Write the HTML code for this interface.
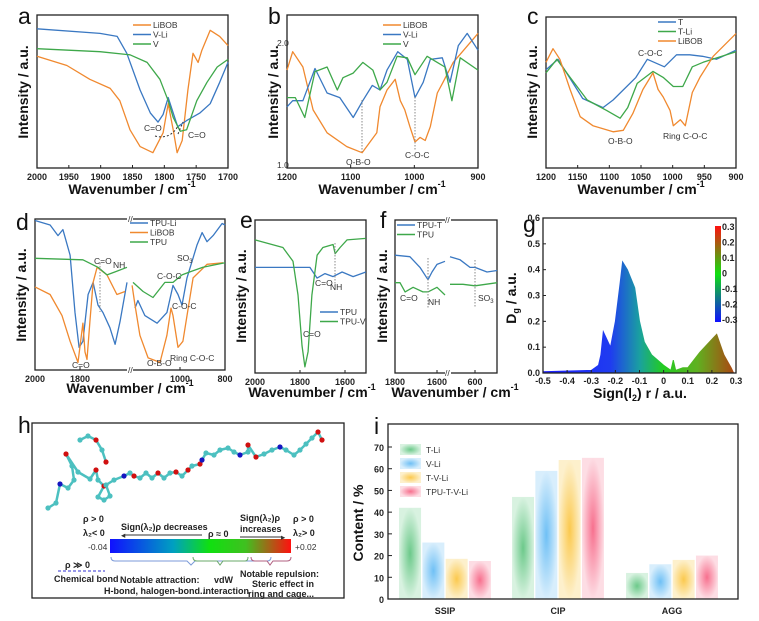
<!DOCTYPE html>
<html><head><meta charset="utf-8"><style>
body{margin:0;background:#fff}
svg{display:block;font-family:"Liberation Sans",sans-serif}
.tk{font-size:9px;font-weight:bold;fill:#222}
.ax{font-size:14px;font-weight:bold;fill:#111}
.lt{font-size:23px;fill:#111}
.lg{font-size:8.5px;fill:#333}
.an{font-size:8.5px;fill:#333}
.ht{font-size:9px;font-weight:bold;fill:#222}
</style></head><body>
<svg id="fig" width="759" height="621" viewBox="0 0 759 621">
<defs>
<linearGradient id="ntc" x1="0" x2="1" y1="0" y2="0"><stop offset="0" stop-color="#1010ff"/><stop offset="0.35" stop-color="#00a0c0"/><stop offset="0.55" stop-color="#10e010"/><stop offset="0.75" stop-color="#40c020"/><stop offset="1" stop-color="#ff1010"/></linearGradient>
<linearGradient id="gfill" gradientUnits="userSpaceOnUse" x1="543" x2="736" y1="0" y2="0"><stop offset="0" stop-color="#1c1cff"/><stop offset="0.35" stop-color="#1f3cf0"/><stop offset="0.5" stop-color="#1aa0a0"/><stop offset="0.62" stop-color="#22cc22"/><stop offset="0.8" stop-color="#60b020"/><stop offset="1" stop-color="#b04010"/></linearGradient>
<linearGradient id="cbar" x1="0" x2="0" y1="1" y2="0"><stop offset="0" stop-color="#1010ff"/><stop offset="0.5" stop-color="#10e010"/><stop offset="1" stop-color="#ff1010"/></linearGradient>
<radialGradient id="bg0"><stop offset="0" stop-color="#6cc98a"/><stop offset="1" stop-color="#d8f2e0"/></radialGradient>
<radialGradient id="bg1"><stop offset="0" stop-color="#6fc0f5"/><stop offset="1" stop-color="#d8eefc"/></radialGradient>
<radialGradient id="bg2"><stop offset="0" stop-color="#fbc94e"/><stop offset="1" stop-color="#fdf0cc"/></radialGradient>
<radialGradient id="bg3"><stop offset="0" stop-color="#f7708e"/><stop offset="1" stop-color="#fddde4"/></radialGradient>
</defs>
<g id="root"></g>
</svg>
<script>
// ---- panel a data [wavenumber, intensity]
const aLiBOB=[[2000,.73],[1953,.67],[1917,.58],[1885,.52],[1870,.44],[1854,.25],[1838,.14],[1818,.10],[1802,.23],[1794,.42],[1786,.25],[1780,.10],[1772,.18],[1763,.51],[1755,.75],[1747,.69],[1741,.77],[1728,.90],[1713,.86],[1700,.80]];
const aVLi=[[2000,.91],[1901,.88],[1874,.86],[1859,.75],[1838,.51],[1822,.36],[1810,.30],[1802,.35],[1794,.46],[1786,.36],[1779,.27],[1765,.31],[1744,.36],[1728,.42],[1713,.56],[1700,.69]];
const aV=[[2000,.78],[1901,.76],[1854,.74],[1827,.69],[1807,.58],[1794,.44],[1786,.33],[1775,.24],[1765,.25],[1749,.44],[1733,.56],[1717,.66],[1700,.71]];
// ---- panel b
const bLiBOB=[[1200,.64],[1191,.76],[1175,.66],[1159,.38],[1137,.23],[1106,.14],[1082,.10],[1059,.23],[1054,.40],[1043,.51],[1030,.58],[1022,.44],[1015,.38],[1007,.27],[999,.17],[991,.20],[983,.18],[975,.27],[964,.49],[955,.56],[939,.69],[900,.88]];
const bVLi=[[1200,.40],[1191,.44],[1175,.44],[1156,.65],[1137,.49],[1117,.46],[1096,.33],[1081,.44],[1066,.54],[1054,.51],[1043,.64],[1026,.76],[1011,.71],[999,.46],[986,.56],[975,.71],[956,.72],[944,.56],[931,.80],[917,.88],[900,.77]];
const bV=[[1200,.46],[1187,.46],[1172,.33],[1156,.63],[1137,.66],[1121,.51],[1112,.59],[1096,.62],[1081,.69],[1065,.64],[1054,.51],[1043,.56],[1027,.73],[1011,.72],[999,.61],[980,.73],[964,.69],[952,.66],[941,.44],[928,.72],[900,.64]];
// ---- panel c
const cLiBOB=[[1200,.70],[1189,.79],[1178,.72],[1162,.52],[1146,.34],[1126,.28],[1094,.24],[1078,.25],[1063,.36],[1047,.52],[1031,.63],[1023,.52],[1015,.47],[1004,.38],[999,.28],[988,.32],[980,.28],[969,.50],[957,.60],[936,.74],[900,.89]];
const cT=[[1200,.65],[1181,.72],[1157,.56],[1142,.46],[1110,.40],[1094,.45],[1058,.60],[1040,.72],[1013,.67],[994,.75],[973,.75],[953,.74],[931,.72],[900,.78]];
const cTLi=[[1200,.63],[1183,.72],[1162,.60],[1135,.45],[1104,.38],[1083,.33],[1071,.40],[1056,.56],[1031,.64],[1015,.60],[999,.54],[984,.54],[969,.67],[952,.70],[900,.77]];
// ---- panel d (broken axis: 2000-1578 | 1222-800)
const dTPULiL=[[2000,.99],[1933,.96],[1898,.89],[1876,.93],[1844,.76],[1822,.38],[1804,.15],[1787,.19],[1764,.50],[1742,.58],[1720,.43],[1698,.38],[1667,.28],[1644,.17],[1622,.32],[1591,.58]];
const dTPULiR=[[1200,.41],[1187,.46],[1156,.36],[1102,.31],[1058,.38],[1031,.56],[1009,.50],[991,.43],[969,.61],[924,.83],[902,.91],[880,.85],[853,.89],[813,.97],[800,.96]];
const dLiBOBL=[[2000,.55],[1933,.50],[1880,.36],[1844,.19],[1809,.05],[1787,.31],[1778,.12],[1769,.07],[1756,.32],[1742,.58],[1724,.68],[1680,.63],[1636,.50],[1600,.52]];
const dLiBOBR=[[1213,.56],[1200,.43],[1178,.23],[1142,.08],[1089,.05],[1058,.23],[1040,.41],[1031,.36],[1009,.15],[987,.19],[969,.36],[942,.61],[880,.70],[809,.71]];
const dTPUL=[[2000,.74],[1787,.73],[1720,.68],[1680,.63],[1644,.65],[1591,.68]];
const dTPUR=[[1209,.58],[1164,.52],[1120,.48],[1067,.58],[1031,.58],[991,.63],[956,.65],[898,.68],[800,.71]];
// ---- panel e
const eTPUV=[[2000,.87],[1876,.82],[1831,.73],[1809,.51],[1791,.18],[1778,.04],[1764,.14],[1747,.51],[1724,.77],[1698,.82],[1653,.84],[1644,.78],[1622,.82],[1591,.87],[1507,.88]];
const eTPU=[[2000,.69],[1756,.69],[1724,.62],[1689,.65],[1653,.63],[1613,.66],[1564,.63],[1507,.66]];
// ---- panel f (broken: 1800-1548 | 728-495)
const fTPUTL=[[1800,.77],[1729,.76],[1681,.69],[1643,.61],[1624,.66],[1600,.71],[1562,.73]];
const fTPUTR=[[719,.76],[671,.74],[624,.69],[600,.69],[543,.66],[495,.67]];
const fTPUL=[[1800,.59],[1776,.59],[1752,.53],[1714,.56],[1667,.53],[1643,.53],[1600,.56],[1562,.51]];
const fTPUR=[[719,.58],[657,.58],[600,.57],[495,.59]];
// ---- panel g envelope [sign(l2)r, Dg]
const gEnvX=[-0.5,-0.3,-0.27,-0.26,-0.25,-0.22,-0.2,-0.18,-0.17,-0.15,-0.12,-0.1,-0.08,-0.05,0,0.03,0.04,0.05,0.08,0.1,0.15,0.2,0.22,0.25,0.28,0.29];
const gEnvY=[0.005,0.01,0.03,0.07,0.16,0.1,0.2,0.35,0.43,0.4,0.33,0.2,0.12,0.07,0.03,0.01,0.05,0.01,0.02,0.02,0.08,0.13,0.15,0.07,0.02,0];
const gXTicks=[-0.5,-0.4,-0.3,-0.2,-0.1,0,0.1,0.2,0.3];
const gYTicks=[0,0.1,0.2,0.3,0.4,0.5,0.6];
// ---- panel i
const iCats=["SSIP","CIP","AGG"];
const iSeries=["T-Li","V-Li","T-V-Li","TPU-T-V-Li"];
const iVals=[[42,26,18.5,17.5],[47,59,64,65],[12,16,18,20]];
const iYTicks=[0,10,20,30,40,50,60,70];

const NS="http://www.w3.org/2000/svg";
const root=document.getElementById('root');
function el(tag,attrs,parent,txt){const e=document.createElementNS(NS,tag);for(const k in attrs)e.setAttribute(k,attrs[k]);if(txt!==undefined)e.textContent=txt;(parent||root).appendChild(e);return e;}
function lin(d0,d1,p0,p1){return v=>p0+(v-d0)/(d1-d0)*(p1-p0);}
function txt(x,y,s,cls,name,extra){const t=el('text',Object.assign({x:x,y:y,class:cls},extra||{}),root,s);

return t;}
function span(t,s,attrs){return el('tspan',attrs||{},t,s);}
function xtitle(x,y,name){const t=txt(x,y,'Wavenumber / cm','ax',name,{'text-anchor':'middle'});span(t,'-1',{'font-size':'9px',dy:'-7'});}
function box(x0,y0,x1,y1,name){const r=el('rect',{x:x0,y:y0,width:x1-x0,height:y1-y0,fill:'none',stroke:'#222','stroke-width':1.3});

}
function path(data,fx,fy,color,name){const d=data.map((p,i)=>(i?'L':'M')+fx(p[0]).toFixed(1)+','+fy(p[1]).toFixed(1)).join('');
const p=el('path',{d:d,fill:'none',stroke:color,'stroke-width':1.3,'stroke-linejoin':'round'});

}
function xticks(vals,fx,yb,name){vals.forEach(v=>{el('line',{x1:fx(v),x2:fx(v),y1:yb,y2:yb-3,stroke:'#222'});txt(fx(v),yb+12,String(v),'tk',name,{'text-anchor':'middle'});});}
function legend(x,y,items){items.forEach((it,i)=>{el('line',{x1:x,x2:x+18,y1:y+i*9.5,y2:y+i*9.5,stroke:it[1],'stroke-width':1.5});txt(x+20,y+i*9.5+3,it[0],'lg','legend-entry');});}
function ylab(x,y,s){return txt(x,y,s,'ax','y-axis-title',{transform:'rotate(-90 '+x+' '+y+')','text-anchor':'middle'});}
function dotted(x,y0,y1){el('line',{x1:x,x2:x,y1:y0,y2:y1,stroke:'#888','stroke-dasharray':'1.5,1.5'});}
const OR='#f0892f',BL='#3a78c2',GR='#3ea84a';

// ===== a
{const fx=lin(2000,1700,37,228),fy=lin(0,1,168,15);
box(37,15,228,168,'panel-a-axes');txt(18,24,'a','lt','panel-a-label');
path(aLiBOB,fx,fy,OR,'a-libob-line');path(aVLi,fx,fy,BL,'a-vli-line');path(aV,fx,fy,GR,'a-v-line');
xticks([2000,1950,1900,1850,1800,1750,1700],fx,168,'a-x-tick');
xtitle(132,194,'a-x-axis-title');
ylab(28,92,'Intensity / a.u.');legend(133,25,[['LiBOB',OR],['V-Li',BL],['V',GR]]);
txt(144,131,'C=O','an','a-annot-co');txt(188,138,'C=O','an','a-annot-co2');
el('path',{d:'M155,136 Q170,140 178,126',fill:'none',stroke:'#333','stroke-dasharray':'2,2'});el('path',{d:'M178,134 L183,122',fill:'none',stroke:'#333','stroke-dasharray':'2,2'});}
// ===== b
{const fx=lin(1200,900,287,478),fy=lin(0,1,168,15);
box(287,15,478,168,'panel-b-axes');txt(268,24,'b','lt','panel-b-label');
path(bLiBOB,fx,fy,OR,'b-libob-line');path(bVLi,fx,fy,BL,'b-vli-line');path(bV,fx,fy,GR,'b-v-line');
xticks([1200,1100,1000,900],fx,168,'b-x-tick');
xtitle(382,194,'b-x-axis-title');
ylab(278,92,'Intensity / a.u.');txt(277,46,'2.0','an','b-y-tick',{'font-size':'6px'});txt(277,168,'1.0','an','b-y-tick',{'font-size':'6px'});
legend(383,25,[['LiBOB',OR],['V-Li',BL],['V',GR]]);
dotted(362,100,152);dotted(415,97,150);txt(346,165,'O-B-O','an','b-annot-obo');txt(405,158,'C-O-C','an','b-annot-coc');}
// ===== c
{const fx=lin(1200,900,546,736),fy=lin(0,1,168,17);
box(546,17,736,168,'panel-c-axes');txt(527,24,'c','lt','panel-c-label');
path(cT,fx,fy,BL,'c-t-line');path(cTLi,fx,fy,GR,'c-tli-line');path(cLiBOB,fx,fy,OR,'c-libob-line');
xticks([1200,1150,1100,1050,1000,950,900],fx,168,'c-x-tick');
xtitle(641,194,'c-x-axis-title');
ylab(537,92,'Intensity / a.u.');legend(658,22,[['T',BL],['T-Li',GR],['LiBOB',OR]]);
txt(638,56,'C-O-C','an','c-annot-coc');txt(608,144,'O-B-O','an','c-annot-obo');txt(663,139,'Ring C-O-C','an','c-annot-ring');}
// ===== d
{const fxL=lin(2000,1800,35,80),fxR=lin(1000,800,180,225),fy=lin(0,1,370,219);
box(35,219,225,370,'panel-d-axes');txt(16,230,'d','lt','panel-d-label');
path(dTPULiL,fxL,fy,BL,'d-tpuli-line');path(dTPULiR,fxR,fy,BL,'d-tpuli-line-r');
path(dLiBOBL,fxL,fy,OR,'d-libob-line');path(dLiBOBR,fxR,fy,OR,'d-libob-line-r');
path(dTPUL,fxL,fy,GR,'d-tpu-line');path(dTPUR,fxR,fy,GR,'d-tpu-line-r');
xticks([2000,1800],fxL,370,'d-x-tick');xticks([1000,800],fxR,370,'d-x-tick');
el('rect',{x:127,y:215,width:6,height:8,fill:'#fff'});el('rect',{x:127,y:366,width:6,height:8,fill:'#fff'});
txt(128,222,'//','an','d-axis-break');txt(128,373,'//','an','d-axis-break-bottom');
xtitle(130,393,'d-x-axis-title');
ylab(26,295,'Intensity / a.u.');legend(130,223,[['TPU-Li',BL],['LiBOB',OR],['TPU',GR]]);
dotted(100,263,312);txt(94,264,'C=O','an','d-annot-co');txt(113,268,'NH','an','d-annot-nh');const so=txt(177,261,'SO','an','d-annot-so3');span(so,'3',{'font-size':'6px',dy:'2'});
txt(157,279,'C-O-C','an','d-annot-coc');txt(172,309,'C-O-C','an','d-annot-coc2');txt(72,368,'C=O','an','d-annot-co2');
txt(147,366,'O-B-O','an','d-annot-obo');txt(170,361,'Ring C-O-C','an','d-annot-ring');}
// ===== e
{const fx=lin(2000,1600,255,345),fy=lin(0,1,373,220);
box(255,220,366,373,'panel-e-axes');txt(240,228,'e','lt','panel-e-label');
path(eTPU,fx,fy,BL,'e-tpu-line');path(eTPUV,fx,fy,GR,'e-tpuv-line');
xticks([2000,1800,1600],fx,373,'e-x-tick');
xtitle(312,397,'e-x-axis-title');
ylab(246,296,'Intensity / a.u.');legend(320,312,[['TPU',BL],['TPU-V',GR]]);
dotted(335,243,290);txt(315,286,'C=O','an','e-annot-co');txt(330,290,'NH','an','e-annot-nh');txt(303,337,'C=O','an','e-annot-co2');}
// ===== f
{const fxL=lin(1800,1600,395,437),fxR=lin(600,400,475,517),fy=lin(0,1,373,220);
box(395,220,497,373,'panel-f-axes');txt(380,228,'f','lt','panel-f-label');
path(fTPUTL,fxL,fy,BL,'f-tput-line');path(fTPUTR,fxR,fy,BL,'f-tput-line-r');
path(fTPUL,fxL,fy,GR,'f-tpu-line');path(fTPUR,fxR,fy,GR,'f-tpu-line-r');
xticks([1800,1600],fxL,373,'f-x-tick');xticks([600],fxR,373,'f-x-tick');
el('rect',{x:445,y:216,width:6,height:8,fill:'#fff'});el('rect',{x:445,y:369,width:6,height:8,fill:'#fff'});
txt(445,223,'//','an','f-axis-break');txt(445,376,'//','an','f-axis-break-bottom');
xtitle(455,397,'f-x-axis-title');
ylab(387,296,'Intensity / a.u.');legend(397,225,[['TPU-T',BL],['TPU',GR]]);
dotted(428,258,308);dotted(475,260,308);txt(400,301,'C=O','an','f-annot-co');txt(428,305,'NH','an','f-annot-nh');const so=txt(478,301,'SO','an','f-annot-so3');span(so,'3',{'font-size':'6px',dy:'2'});}
// ===== g
{const fx=lin(-0.5,0.3,543,736),fy=lin(0,0.6,373,218);
let d='M'+fx(gEnvX[0])+','+fy(0);gEnvX.forEach((x,i)=>{d+='L'+fx(x).toFixed(1)+','+fy(gEnvY[i]).toFixed(1);});d+='L'+fx(gEnvX[gEnvX.length-1])+','+fy(0)+'Z';
const p=el('path',{d:d,fill:'url(#gfill)',stroke:'url(#gfill)','stroke-width':1});


box(543,218,736,373,'panel-g-axes');txt(523,232,'g','lt','panel-g-label',{'font-size':'28px'});
gXTicks.forEach(v=>{el('line',{x1:fx(v),x2:fx(v),y1:373,y2:370,stroke:'#222'});txt(fx(v),384,String(v),'tk','g-x-tick',{'text-anchor':'middle'});});
gYTicks.forEach(v=>{el('line',{x1:543,x2:546,y1:fy(v),y2:fy(v),stroke:'#222'});txt(540,fy(v)+3,v.toFixed(1),'tk','g-y-tick',{'text-anchor':'end'});});
const xt=txt(640,398,'Sign(l','ax','g-x-axis-title',{'text-anchor':'middle'});span(xt,'2',{'font-size':'9px',dy:'3'});span(xt,') r / a.u.',{dy:'-3'});
const yt=ylab(516,298,'D');span(yt,'g',{'font-size':'9px',dy:'3'});span(yt,' / a.u.',{dy:'-3'});
const cb=el('rect',{x:715,y:226,width:6,height:96,fill:'url(#cbar)'});
['0.3','0.2','0.1','0','-0.1','-0.2','-0.3'].forEach((s,i)=>txt(722,230+i*15.5,s,'tk','g-colorbar-tick'));}
// ===== h
{box(32,423,344,598,'panel-h-box');txt(18,433,'h','lt','panel-h-label');
const atoms=[[48,508,'#4cc0c0'],[56,503,'#4cc0c0'],[60,484,'#1515c0'],[68,488,'#4cc0c0'],[74,480,'#4cc0c0'],[72,466,'#4cc0c0'],[66,454,'#d01010'],[78,472,'#4cc0c0'],[90,479,'#4cc0c0'],[96,470,'#d01010'],[98,480,'#4cc0c0'],[104,486,'#d01010'],[98,497,'#4cc0c0'],[104,500,'#4cc0c0'],[110,496,'#4cc0c0'],[106,485,'#4cc0c0'],[114,480,'#4cc0c0'],[124,476,'#1515c0'],[130,473,'#4cc0c0'],[134,476,'#d01010'],[140,478,'#4cc0c0'],[146,473,'#4cc0c0'],[152,478,'#4cc0c0'],[158,473,'#d01010'],[164,478,'#4cc0c0'],[170,473,'#4cc0c0'],[176,472,'#d01010'],[182,476,'#4cc0c0'],[188,470,'#d01010'],[192,466,'#4cc0c0'],[200,464,'#d01010'],[202,460,'#1515c0'],[206,453,'#4cc0c0'],[214,455,'#4cc0c0'],[220,450,'#4cc0c0'],[228,448,'#4cc0c0'],[234,452,'#4cc0c0'],[240,455,'#1515c0'],[248,452,'#4cc0c0'],[248,445,'#d01010'],[256,457,'#d01010'],[264,454,'#4cc0c0'],[272,450,'#4cc0c0'],[280,447,'#1515c0'],[286,450,'#4cc0c0'],[294,455,'#4cc0c0'],[300,450,'#4cc0c0'],[306,444,'#4cc0c0'],[312,438,'#4cc0c0'],[318,432,'#d01010'],[322,440,'#d01010']];
const ring=[[80,440,'#4cc0c0'],[88,436,'#4cc0c0'],[96,440,'#d01010'],[102,450,'#4cc0c0'],[106,462,'#d01010']];
[atoms,ring].forEach(set=>{for(let i=1;i<set.length;i++){el('line',{x1:set[i-1][0],y1:set[i-1][1],x2:set[i][0],y2:set[i][1],stroke:'#4cc0c0','stroke-width':2.5});}});
atoms.concat(ring).forEach(a=>{const c=el('circle',{cx:a[0],cy:a[1],r:2.6,fill:a[2]});});
const bar=el('rect',{x:110,y:539,width:181,height:14,fill:'url(#ntc)'});
txt(83,522,'ρ > 0','ht','h-rho-pos-left');txt(83,536,'λ₂< 0','ht','h-lambda-neg');
txt(121,530,'Sign(λ₂)ρ decreases','ht','h-decreases');el('line',{x1:124,x2:202,y1:535,y2:535,stroke:'#333'});txt(121,538,'◂','an','arrow');
txt(208,537,'ρ ≈ 0','ht','h-rho-zero');txt(240,521,'Sign(λ₂)ρ','ht','h-sign');txt(240,532,'increases','ht','h-increases');
el('line',{x1:240,x2:282,y1:537,y2:537,stroke:'#333'});txt(281,540,'▸','an','arrow');
txt(293,522,'ρ > 0','ht','h-rho-pos-right');txt(293,536,'λ₂> 0','ht','h-lambda-pos');
txt(88,550,'-0.04','an','h-min',{'font-size':'7px'});txt(295,550,'+0.02','an','h-max',{'font-size':'7px'});
el('path',{d:'M111,557 q0,4 4,4 h72 l4,4 l4,-4 h72 q4,0 4,-4',fill:'none',stroke:'#7b9ad8'});
el('path',{d:'M193,557 q0,4 4,4 h20 l3,4 l3,-4 h22 q3,0 3,-4',fill:'none',stroke:'#6aa86a'});
el('path',{d:'M251,557 q0,4 4,4 h12 l3,4 l3,-4 h14 q4,0 4,-4',fill:'none',stroke:'#b06080'});
txt(65,568,'ρ ≫ 0','ht','h-rho-large');el('line',{x1:58,x2:105,y1:571,y2:571,stroke:'#3030d0','stroke-dasharray':'3,2'});
txt(54,582,'Chemical bond','ht','h-chem-bond',{'font-size':'7.5px'});txt(120,583,'Notable attraction:','ht','h-attraction',{'font-size':'7.5px'});
txt(104,594,'H-bond, halogen-bond...','ht','h-hbond',{'font-size':'7.5px'});txt(214,583,'vdW','ht','h-vdw',{'font-size':'7.5px'});
txt(203,594,'interaction','ht','h-interaction',{'font-size':'7.5px'});txt(240,577,'Notable repulsion:','ht','h-repulsion',{'font-size':'7.5px'});
txt(252,587,'Steric effect in','ht','h-steric',{'font-size':'7.5px'});txt(248,597,'ring and cage...','ht','h-ring',{'font-size':'7.5px'});}
// ===== i
{const fy=lin(0,70,599,447);const centers=[445,558,672];const bw=22,step=23.3;
iVals.forEach((vals,g)=>vals.forEach((v,s)=>{const x=centers[g]+(s-1.5)*step-bw/2;
const r=el('rect',{x:x,y:fy(v),width:bw,height:599-fy(v),fill:'url(#bg'+s+')'});

}));
box(388,424,738,599,'panel-i-axes');txt(374,434,'i','lt','panel-i-label');
iYTicks.forEach(v=>{el('line',{x1:388,x2:392,y1:fy(v),y2:fy(v),stroke:'#222'});txt(384,fy(v)+4,String(v),'tk','i-y-tick',{'text-anchor':'end','font-size':'10px'});});
iCats.forEach((c,g)=>txt(centers[g],614,c,'tk','i-x-tick',{'text-anchor':'middle','font-size':'11px'}));
ylab(363,523,'Content / %');
iSeries.forEach((s,k)=>{const r=el('rect',{x:400,y:444+k*14,width:21,height:11,fill:'url(#bg'+k+')'});
txt(426,453+k*14,s,'lg','legend-entry',{'font-size':'10px','fill':'#222'});});}
</script>
</body></html>
